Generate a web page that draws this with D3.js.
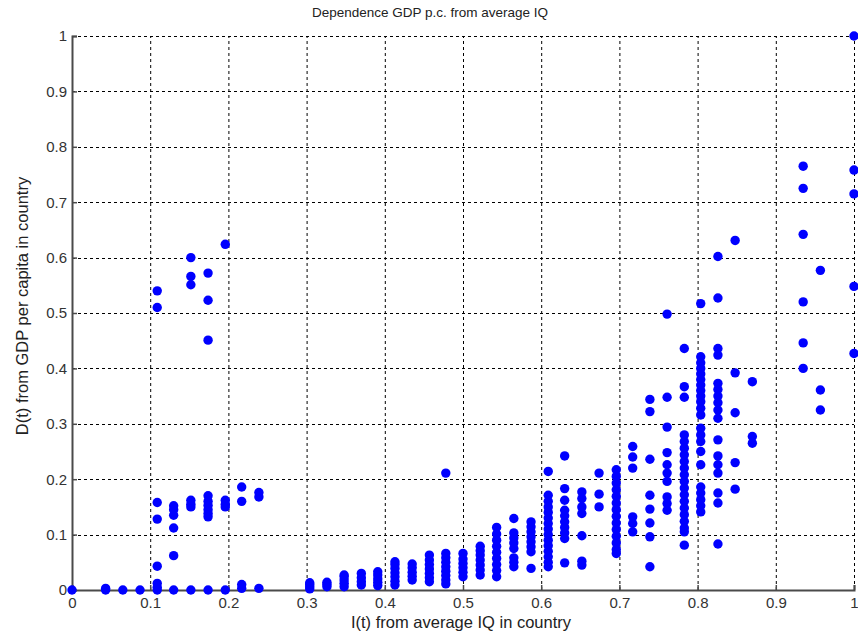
<!DOCTYPE html>
<html><head><meta charset="utf-8">
<script src="https://cdn.jsdelivr.net/npm/d3@7"></script>
<style>
body{margin:0;background:#fff;}
svg text{font-family:"Liberation Sans",Arial,sans-serif;}
</style></head>
<body><svg id="c" width="858" height="634"></svg>
<script>
const title = "Dependence GDP p.c. from average IQ";
const xLabel = "I(t) from average IQ in country";
const yLabel = "D(t) from GDP per capita in country";
const xTicks = [0,0.1,0.2,0.3,0.4,0.5,0.6,0.7,0.8,0.9,1];
const yTicks = [0,0.1,0.2,0.3,0.4,0.5,0.6,0.7,0.8,0.9,1];
// IQ columns (x) and the GDP values (y) of the countries at each
const iq = [0,0.043,0.065,0.087,0.109,0.130,0.152,0.174,0.196,0.217,0.239,
  0.304,0.326,0.348,0.370,0.391,0.413,0.435,0.457,0.478,0.500,0.522,0.543,0.565,0.587,
  0.609,0.630,0.652,0.674,0.696,0.717,0.739,0.761,0.783,0.804,0.826,0.848,0.870,0.935,0.957,1.000];
const gdp = [
  [0],
  [0,0.003],
  [0],
  [0],
  [0.540,0.510,0.158,0.128,0.043,0.012,0.005,0],
  [0.152,0.145,0.135,0.112,0.062,0],
  [0.600,0.566,0.551,0.162,0.155,0.150,0],
  [0.572,0.523,0.451,0.170,0.160,0.153,0.145,0.138,0.132,0],
  [0.624,0.162,0.155,0.150,0],
  [0.186,0.160,0.010,0.003],
  [0.176,0.168,0.003],
  [0.002,0.006,0.010,0.013],
  [0.006,0.010,0.014],
  [0.006,0.012,0.018,0.024,0.027],
  [0.009,0.015,0.022,0.030],
  [0.008,0.014,0.020,0.027,0.033],
  [0.009,0.016,0.024,0.031,0.039,0.046,0.051],
  [0.018,0.025,0.032,0.040,0.047],
  [0.015,0.022,0.030,0.038,0.046,0.054,0.063],
  [0.011,0.018,0.026,0.034,0.042,0.050,0.058,0.066,0.211],
  [0.024,0.032,0.040,0.048,0.056,0.066],
  [0.027,0.036,0.045,0.054,0.063,0.071,0.079],
  [0.024,0.035,0.046,0.057,0.068,0.079,0.090,0.101,0.113],
  [0.129,0.103,0.094,0.085,0.075,0.058,0.050,0.042],
  [0.123,0.114,0.105,0.096,0.087,0.078,0.069,0.039],
  [0.214,0.171,0.160,0.150,0.140,0.130,0.120,0.110,0.100,0.090,0.080,0.070,0.060,0.050,0.042],
  [0.242,0.183,0.162,0.144,0.134,0.123,0.113,0.103,0.093,0.049],
  [0.177,0.165,0.150,0.138,0.098,0.052,0.045],
  [0.211,0.173,0.150],
  [0.217,0.205,0.193,0.181,0.169,0.157,0.145,0.133,0.121,0.109,0.097,0.085,0.073,0.066],
  [0.259,0.240,0.220,0.132,0.120,0.105],
  [0.344,0.322,0.236,0.171,0.146,0.121,0.096,0.042],
  [0.498,0.348,0.294,0.248,0.226,0.211,0.196,0.168,0.156,0.144],
  [0.436,0.367,0.348,0.280,0.268,0.256,0.244,0.232,0.220,0.208,0.196,0.184,0.172,0.160,0.148,0.136,0.124,0.112,0.105,0.081],
  [0.517,0.421,0.410,0.400,0.390,0.380,0.370,0.360,0.350,0.340,0.328,0.316,0.292,0.280,0.268,0.250,0.226,0.186,0.175,0.163,0.152,0.141],
  [0.602,0.527,0.436,0.424,0.373,0.362,0.350,0.338,0.325,0.310,0.271,0.242,0.226,0.211,0.175,0.157,0.083],
  [0.631,0.392,0.320,0.230,0.182],
  [0.376,0.277,0.265],
  [0.765,0.725,0.642,0.520,0.446,0.400],
  [0.577,0.361,0.325],
  [1.000,0.758,0.715,0.548,0.427]
];

const svg = d3.select("#c");
const L = 72, R = 854, T = 36, B = 590;
const x = d3.scaleLinear().domain([0,1]).range([L,R]);
const y = d3.scaleLinear().domain([0,1]).range([B,T]);
const axisCol = "#4a4a4a", textCol = "#333";

// grid
const g = svg.append("g");
g.selectAll(".gx").data(xTicks.filter(d=>d>0)).join("line")
  .attr("x1",d=>x(d)+0.5).attr("x2",d=>x(d)+0.5).attr("y1",B).attr("y2",T)
  .attr("stroke","#000").attr("stroke-width",1).attr("stroke-dasharray","3,3");
g.selectAll(".gy").data(yTicks.filter(d=>d>0)).join("line")
  .attr("y1",d=>Math.round(y(d))+0.5).attr("y2",d=>Math.round(y(d))+0.5).attr("x1",L).attr("x2",R)
  .attr("stroke","#000").attr("stroke-width",1).attr("stroke-dasharray","3,3");

// axes
const xa = svg.append("g").attr("transform",`translate(0,${B})`)
  .call(d3.axisBottom(x).tickValues(xTicks).tickSize(-5).tickPadding(7).tickFormat(d3.format("")));
const ya = svg.append("g").attr("transform",`translate(${L},0)`)
  .call(d3.axisLeft(y).tickValues(yTicks).tickSize(-5).tickPadding(5).tickFormat(d3.format("")));
[xa,ya].forEach(a=>{
  a.attr("font-size",15).attr("font-family","'Liberation Sans',Arial,sans-serif");
  a.select(".domain").attr("stroke",axisCol).attr("stroke-width",2);
  a.selectAll(".tick line").attr("stroke",axisCol).attr("stroke-width",1.5);
  a.selectAll(".tick text").attr("fill",textCol).style("font-size","15px");
});

// points
const pts = [];
iq.forEach((v,i)=>gdp[i].forEach(w=>pts.push([v,w])));
svg.append("g").selectAll("circle").data(pts).join("circle")
  .attr("cx",d=>x(d[0])).attr("cy",d=>y(d[1])).attr("r",4.7)
  .attr("fill","#0000ff");

// labels
svg.append("text").attr("x",430).attr("y",17).attr("text-anchor","middle")
  .style("font-size","13.5px").attr("fill","#222").text(title);
svg.append("text").attr("x",461).attr("y",628).attr("text-anchor","middle")
  .style("font-size","16.5px").attr("fill","#222").text(xLabel);
svg.append("text").attr("transform",`translate(28,306) rotate(-90)`)
  .attr("text-anchor","middle").style("font-size","16.5px").attr("fill","#222").text(yLabel);
</script></body></html>
